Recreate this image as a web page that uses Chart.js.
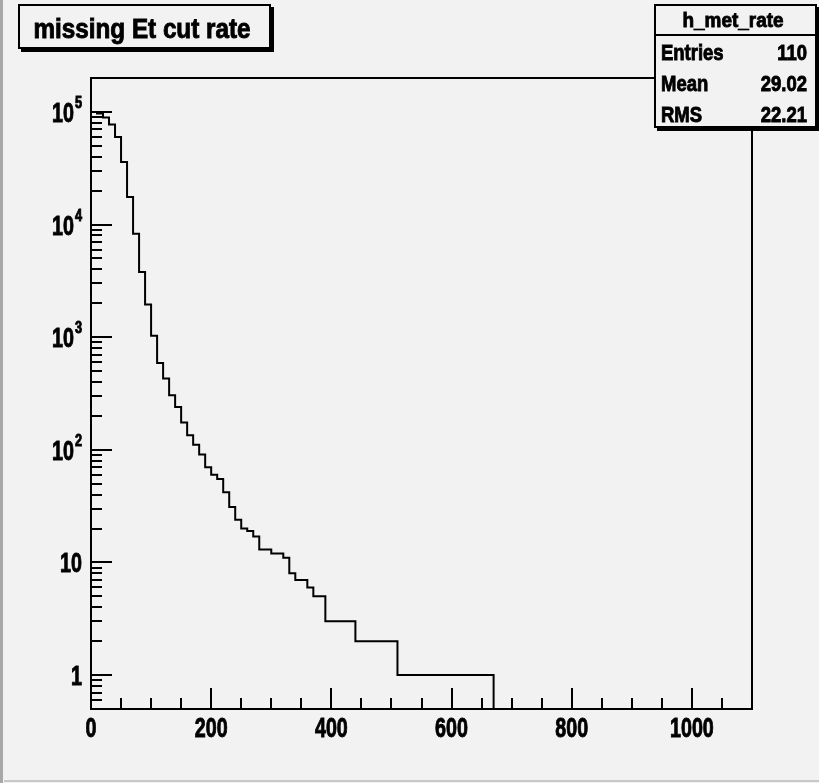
<!DOCTYPE html>
<html>
<head>
<meta charset="utf-8">
<title>missing Et cut rate</title>
<script src="https://cdn.jsdelivr.net/npm/chart.js@4"></script>
<style>
  html, body { margin: 0; padding: 0; background: #f2f2f2; }
  canvas { display: block; }
</style>
</head>
<body>
<canvas id="metChart" width="819" height="783"></canvas>
<script>
// h_met_rate : 110 bins, 10 wide, from 0 to 1100
const binWidth = 10;
const rate = [
  100000, 97000, 89000, 77500, 60000, 36000, 17600, 8300, 3800, 1950,
  1030, 590, 430, 305, 240, 175, 135, 111, 91, 70,
  60, 55, 42, 31, 24, 20, 19, 17, 13, 13,
  12, 12, 11, 8, 7, 7, 6, 5, 5, 3,
  3, 3, 3, 3, 2, 2, 2, 2, 2, 2,
  2, 1, 1, 1, 1, 1, 1, 1, 1, 1,
  1, 1, 1, 1, 1, 1, 1, 0, 0, 0,
  0, 0, 0, 0, 0, 0, 0, 0, 0, 0,
  0, 0, 0, 0, 0, 0, 0, 0, 0, 0,
  0, 0, 0, 0, 0, 0, 0, 0, 0, 0,
  0, 0, 0, 0, 0, 0, 0, 0, 0, 0
];
const xTicks = [0, 200, 400, 600, 800, 1000];
const yTicks = [1, 10, 100, 1000, 10000, 100000];
const yTickBase = ["1", "10", "10", "10", "10", "10"];
const yTickExp = ["", "", "2", "3", "4", "5"];
const histTitle = "missing Et cut rate";
const statsName = "h_met_rate";
const statsLabels = ["Entries", "Mean", "RMS"];
const statsValues = ["110", "29.02", "22.21"];

const xMin = 0, xMax = 1100;
const yMin = 0.5, yMax = 2e5;
const bg = "#f2f2f2";
const fontFam = '"Liberation Sans", Arial, sans-serif';

// empty bins go below the frame (log scale), they get clipped
const points = rate.map((v, i) => ({ x: i * binWidth, y: v > 0 ? v : yMin / 10 }));
points.push({ x: rate.length * binWidth, y: points[points.length - 1].y });

function drawText(ctx, str, x, y, size, align, sx) {
  ctx.save();
  ctx.font = "bold " + size + "px " + fontFam;
  ctx.textAlign = align;
  ctx.textBaseline = "alphabetic";
  ctx.fillStyle = "#000";
  ctx.strokeStyle = "#000";
  ctx.lineWidth = 0.9;
  ctx.translate(x, y);
  ctx.scale(sx, 1);
  ctx.fillText(str, 0, 0);
  ctx.strokeText(str, 0, 0); // ROOT text looks heavier
  ctx.restore();
}

function textWidth(ctx, str, size, sx) {
  ctx.save();
  ctx.font = "bold " + size + "px " + fontFam;
  const w = ctx.measureText(str).width * sx;
  ctx.restore();
  return w;
}

// text squeezed to a given width (ROOT helvetica looks narrow)
function fitText(ctx, str, x, y, size, align, width) {
  const sx = width / textWidth(ctx, str, size, 1);
  drawText(ctx, str, x, y, size, align, sx);
}

function pave(ctx, l, t, r, b) {
  ctx.fillStyle = "#000";
  ctx.fillRect(l + 3, t + 3, r - l, b - t);
  ctx.fillStyle = bg;
  ctx.fillRect(l, t, r - l, b - t);
  ctx.strokeStyle = "#000";
  ctx.lineWidth = 2;
  ctx.strokeRect(l + 1, t + 1, r - l - 2, b - t - 2);
}

const rootStyle = {
  id: "rootStyle",
  beforeDraw(chart) {
    const ctx = chart.ctx;
    ctx.save();
    ctx.fillStyle = bg;
    ctx.fillRect(0, 0, chart.width, chart.height);
    ctx.restore();
  },
  afterDraw(chart) {
    const ctx = chart.ctx;
    const a = chart.chartArea;
    const xs = chart.scales.x, ys = chart.scales.y;
    ctx.save();
    ctx.strokeStyle = "#000";
    ctx.lineWidth = 2;

    // frame
    ctx.strokeRect(a.left, a.top, a.right - a.left, a.bottom - a.top);

    // x ticks, inside the frame
    ctx.beginPath();
    for (let v = xMin; v <= xMax; v += 50) {
      const px = Math.round(xs.getPixelForValue(v));
      const len = xTicks.includes(v) ? 21 : 11;
      ctx.moveTo(px, a.bottom);
      ctx.lineTo(px, a.bottom - len);
    }
    // y ticks
    for (let d = -1; d <= 5; d++) {
      for (let k = 1; k <= 9; k++) {
        const v = k * Math.pow(10, d);
        if (v < yMin || v > yMax) continue;
        const py = Math.round(ys.getPixelForValue(v));
        const len = k === 1 ? 21 : 11;
        ctx.moveTo(a.left, py);
        ctx.lineTo(a.left + len, py);
      }
    }
    ctx.stroke();

    // tick labels
    xTicks.forEach(v => {
      drawText(ctx, String(v), xs.getPixelForValue(v), a.bottom + 28, 27, "center", 0.73);
    });
    yTicks.forEach((v, i) => {
      const py = ys.getPixelForValue(v);
      const right = a.left - 9;
      if (yTickExp[i]) {
        const ew = textWidth(ctx, yTickExp[i], 17, 0.75);
        drawText(ctx, yTickExp[i], right, py - 4, 17, "right", 0.75);
        drawText(ctx, yTickBase[i], right - ew - 1, py + 10, 27, "right", 0.73);
      } else {
        drawText(ctx, yTickBase[i], right, py + 10, 27, "right", 0.73);
      }
    });

    // title pave
    pave(ctx, 18, 4, 271, 49);
    fitText(ctx, histTitle, 142, 38, 27, "center", 217);

    // stats pave
    pave(ctx, 654, 4, 817, 128);
    ctx.beginPath();
    ctx.moveTo(654, 35);
    ctx.lineTo(817, 35);
    ctx.stroke();
    fitText(ctx, statsName, 733, 27, 21, "center", 101);
    const rowBase = [60, 91, 122];
    statsLabels.forEach((lab, i) => {
      drawText(ctx, lab, 661, rowBase[i], 22, "left", 0.84);
      drawText(ctx, statsValues[i], 807, rowBase[i], 22, "right", 0.84);
    });

    // window bevel
    ctx.fillStyle = "#a8a8a8";
    ctx.fillRect(0, 0, 3, chart.height);
    ctx.fillStyle = "#c8c8c8";
    ctx.fillRect(4, 780, chart.width - 4, 2);
    ctx.restore();
  }
};

new Chart(document.getElementById("metChart"), {
  type: "line",
  data: {
    datasets: [{
      label: statsName,
      data: points,
      stepped: "before",
      borderColor: "#000",
      borderWidth: 2,
      pointRadius: 0,
      fill: false,
      tension: 0
    }]
  },
  options: {
    responsive: false,
    animation: false,
    events: [],
    layout: { padding: { left: 91, right: 67, top: 78, bottom: 74 } },
    scales: {
      x: { type: "linear", min: xMin, max: xMax, display: false },
      y: { type: "logarithmic", min: yMin, max: yMax, display: false }
    },
    plugins: {
      legend: { display: false },
      tooltip: { enabled: false }
    }
  },
  plugins: [rootStyle]
});
</script>
</body>
</html>
